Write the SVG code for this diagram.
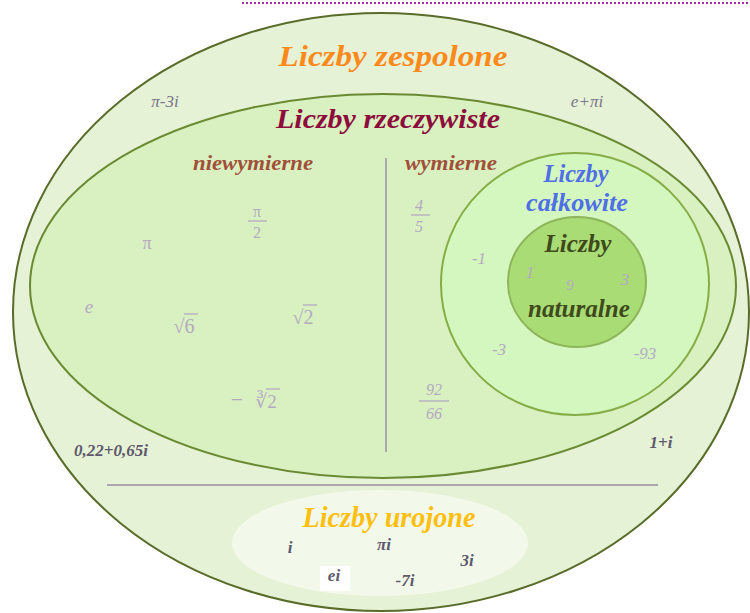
<svg xmlns="http://www.w3.org/2000/svg" width="750" height="613" viewBox="0 0 750 613">
<style>
.t{font-family:"Liberation Serif","DejaVu Serif",serif;font-style:italic;font-weight:bold;text-anchor:middle}
.s{font-family:"Liberation Serif","DejaVu Serif",serif;font-style:italic;fill:#7a758c;text-anchor:middle}
.d{font-family:"Liberation Serif","DejaVu Serif",serif;font-style:italic;font-weight:bold;fill:#5e596c;text-anchor:middle}
.m{font-family:"Liberation Serif","DejaVu Serif",serif;fill:#b3aac2;text-anchor:middle}
.mi{font-family:"Liberation Serif","DejaVu Serif",serif;font-style:italic;fill:#b3aac2;text-anchor:middle}
.fl{stroke:#b3aac2;stroke-width:1.3}
.div{stroke:#a9a9ad;stroke-width:2}
</style>
<rect width="750" height="613" fill="#ffffff"/>
<line x1="242" y1="3" x2="750" y2="3" stroke="#9b2fa0" stroke-width="2" stroke-dasharray="2,2"/>
<g id="zespolone">
<ellipse cx="381" cy="312" rx="368" ry="299" fill="#e5f2d5" stroke="#596c2a" stroke-width="2"/>
<text class="t" x="393" y="66" font-size="29" fill="#ff8a1c" textLength="229" lengthAdjust="spacingAndGlyphs">Liczby zespolone</text>
<text class="s" x="165" y="107" font-size="17">π-3i</text>
<text class="s" x="587" y="107" font-size="17">e+πi</text>
<text class="d" x="111" y="456" font-size="17">0,22+0,65i</text>
<text class="d" x="661" y="448" font-size="17" fill="#6e6980">1+i</text>
</g>
<g id="rzeczywiste">
<ellipse cx="383" cy="286" rx="353" ry="192" fill="#d9f0c0" stroke="#6a8a32" stroke-width="2"/>
<text class="t" x="388" y="128" font-size="27" fill="#8c0c3c" textLength="224" lengthAdjust="spacingAndGlyphs">Liczby rzeczywiste</text>
<text class="t" x="253" y="170" font-size="21" fill="#a0503a" textLength="120" lengthAdjust="spacingAndGlyphs">niewymierne</text>
<text class="t" x="451" y="170" font-size="21" fill="#a0503a" textLength="92" lengthAdjust="spacingAndGlyphs">wymierne</text>
<text class="m" x="147" y="249" font-size="18">π</text>
<text class="m" x="257" y="217" font-size="16">π</text>
<line class="fl" x1="248" y1="221" x2="267" y2="221"/>
<text class="m" x="257" y="238" font-size="16">2</text>
<text class="mi" x="89" y="313" font-size="19">e</text>
<text class="m" x="184" y="333" font-size="20">√6</text>
<line class="fl" x1="184" y1="314" x2="198" y2="314"/>
<text class="m" x="303" y="324" font-size="20">√2</text>
<line class="fl" x1="303" y1="305" x2="317" y2="305"/>
<text class="m" x="237" y="407" font-size="22">−</text>
<text class="m" x="266" y="408" font-size="19" font-family="DejaVu Serif, serif">∛2</text>
<line class="fl" x1="266" y1="389" x2="280" y2="389"/>
<text class="mi" x="419" y="211" font-size="16">4</text>
<line class="fl" x1="411" y1="215" x2="430" y2="215"/>
<text class="mi" x="419" y="232" font-size="16">5</text>
<text class="mi" x="434" y="395" font-size="16">92</text>
<line class="fl" x1="419" y1="401" x2="449" y2="401"/>
<text class="mi" x="434" y="419" font-size="16">66</text>
</g>
<g id="calkowite">
<ellipse cx="575" cy="284" rx="134" ry="131" fill="#d4f7bf" stroke="#85ad45" stroke-width="2"/>
<text class="t" x="576" y="182" font-size="26" fill="#4f6fe6" textLength="65" lengthAdjust="spacingAndGlyphs">Liczby</text>
<text class="t" x="577" y="211" font-size="26" fill="#4f6fe6" textLength="102" lengthAdjust="spacingAndGlyphs">całkowite</text>
<text class="mi" x="479" y="264" font-size="17">-1</text>
<text class="mi" x="499" y="355" font-size="17">-3</text>
<text class="mi" x="645" y="359" font-size="17">-93</text>
</g>
<g id="naturalne">
<ellipse cx="577" cy="282" rx="69" ry="65" fill="#a9dc75" stroke="#8db55a" stroke-width="2"/>
<text class="t" x="578" y="252" font-size="26" fill="#3e4a1c" textLength="67" lengthAdjust="spacingAndGlyphs">Liczby</text>
<text class="t" x="579" y="317" font-size="26" fill="#3e4a1c" textLength="102" lengthAdjust="spacingAndGlyphs">naturalne</text>
<text class="mi" x="530" y="278" font-size="17">1</text>
<text class="mi" x="625" y="285" font-size="17">3</text>
<text class="mi" x="570" y="290" font-size="15">9</text>
</g>
<g id="connectors">
<line class="div" x1="386" y1="158" x2="386" y2="452"/>
<line class="div" x1="107" y1="485" x2="658" y2="485"/>
</g>
<g id="urojone">
<ellipse cx="380" cy="543" rx="148" ry="53" fill="#f3f9ea"/>
<text class="t" x="389" y="527" font-size="29" fill="#ffbf10" textLength="173" lengthAdjust="spacingAndGlyphs">Liczby urojone</text>
<text class="d" x="290" y="553" font-size="17">i</text>
<text class="d" x="384" y="550" font-size="17">πi</text>
<text class="d" x="467" y="566" font-size="17">3i</text>
<rect x="320" y="566" width="30" height="25" fill="#ffffff"/>
<text class="d" x="334" y="581" font-size="17">ei</text>
<text class="d" x="405" y="586" font-size="17">-7i</text>
</g>
</svg>
